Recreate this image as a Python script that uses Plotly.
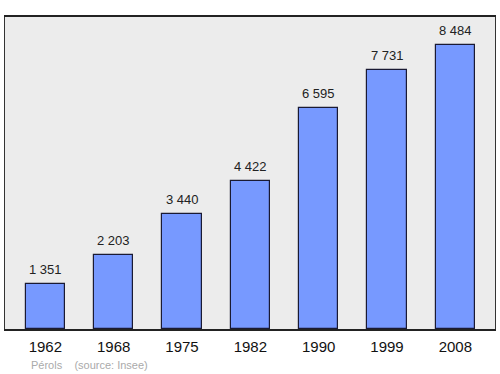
import plotly.graph_objects as go

years = ["1962", "1968", "1975", "1982", "1990", "1999", "2008"]
population = [1351, 2203, 3440, 4422, 6595, 7731, 8484]
labels = ["1 351", "2 203", "3 440", "4 422", "6 595", "7 731", "8 484"]

W, H = 500, 374
ml, mr, mt, mb = 5, 5, 17, 45
FONT = "Liberation Sans, Arial, sans-serif"

fig = go.Figure()
fig.add_trace(go.Bar(
    x=list(range(len(years))), y=population, width=0.575,
    marker=dict(color="#7799ff", line=dict(color="#1a1a33", width=1.2)),
    hoverinfo="skip",
))
for i, (v, t) in enumerate(zip(population, labels)):
    fig.add_annotation(x=i, y=v, text=t, showarrow=False, yanchor="bottom",
                       yshift=5, font=dict(size=13, color="#222222", family=FONT))

fig.add_annotation(xref="paper", yref="paper", x=(29 - ml) / (W - ml - mr), y=-(365 - (H - mb)) / (H - mt - mb),
                   text="Pérols&nbsp;&nbsp;&nbsp;&nbsp;(source: Insee)", showarrow=False,
                   xanchor="left", yanchor="middle",
                   font=dict(size=11, color="#aaaaaa", family=FONT))

fig.update_layout(
    width=W, height=H,
    margin=dict(l=ml, r=mr, t=mt, b=mb),
    paper_bgcolor="white", plot_bgcolor="#ececec",
    showlegend=False,
    bargap=0,
    xaxis=dict(range=[-0.59, 6.58], tickmode="array", tickvals=list(range(len(years))),
               ticktext=years, showgrid=False, zeroline=False,
               showline=True, linecolor="#222222", linewidth=1.5, mirror=True,
               ticks="outside", ticklen=3, tickcolor="rgba(0,0,0,0)",
               tickfont=dict(size=15, color="#111111", family=FONT)),
    yaxis=dict(range=[0, 9320], showgrid=False, zeroline=False, showticklabels=False,
               showline=True, linecolor="#333333", linewidth=1, mirror=True),
)
fig.write_html("out.html")
